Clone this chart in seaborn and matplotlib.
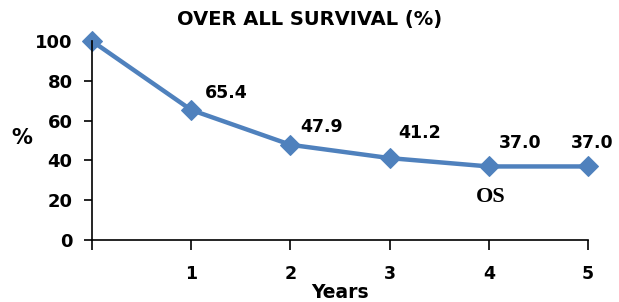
import numpy as np
import pandas as pd
import matplotlib.pyplot as plt
import seaborn as sns

# survival data
years = [0, 1, 2, 3, 4, 5]
survival = [100, 65.4, 47.9, 41.2, 37.0, 37.0]
tick_labels = ["", "1", "2", "3", "4", "5"]
label_offsets = [None, (14, 8), (10, 9), (9, 16), (10, 14), (-17, 14)]

df = pd.DataFrame({"Years": years, "Survival": survival})

sns.set_style("white")
plt.rcParams['font.family'] = ['DejaVu Sans']
plt.rcParams['font.weight'] = 'bold'
plt.rcParams['text.color'] = 'black'
plt.rcParams['xtick.color'] = 'black'
plt.rcParams['ytick.color'] = 'black'

blue = "#4F81BD"
fig = plt.figure(figsize=(6.19, 3.02), dpi=100)
ax = fig.add_axes([0.1486, 0.205, 0.8014, 0.659])

sns.lineplot(data=df, x="Years", y="Survival", ax=ax, color=blue, linewidth=3.2,
             marker="D", markersize=10, markeredgecolor=blue, clip_on=False)

for x, y, off in zip(years, survival, label_offsets):
    if off is None:
        continue
    ax.annotate(f"{y:.1f}", (x, y), xytext=off, textcoords="offset pixels",
                ha="left", va="bottom", fontsize=12.5, fontweight="bold", color="black")

ax.text(4.02, 21.6, "OS", family="Liberation Serif", fontweight="bold",
        fontsize=16, ha="center", va="center", color="black")

ax.set_xlim(0, 5)
ax.set_ylim(0, 100)
ax.set_xticks(years)
ax.set_xticklabels(tick_labels)
ax.set_yticks([0, 20, 40, 60, 80, 100])
ax.tick_params(axis="x", direction="out", length=7, width=1.2, pad=11, labelsize=12.5, bottom=True)
ax.tick_params(axis="y", direction="out", length=6, width=1.2, pad=8, labelsize=13, left=True)
for lab in ax.get_xticklabels() + ax.get_yticklabels():
    lab.set_fontweight("bold")

sns.despine(ax=ax)
for s in ["left", "bottom"]:
    ax.spines[s].set_color("black")
    ax.spines[s].set_linewidth(1.2)

ax.set_xlabel("")
ax.set_ylabel("")
fig.text(310 / 619, 1 - 20 / 302, "OVER ALL SURVIVAL (%)", ha="center", va="center",
         fontsize=14, fontweight="bold")
fig.text(340 / 619, 1 - 292 / 302, "Years", ha="center", va="center",
         fontsize=13.5, fontweight="bold")
fig.text(22 / 619, 1 - 138 / 302, "%", ha="center", va="center",
         fontsize=15, fontweight="bold")

fig.savefig("out.png", dpi=100)
